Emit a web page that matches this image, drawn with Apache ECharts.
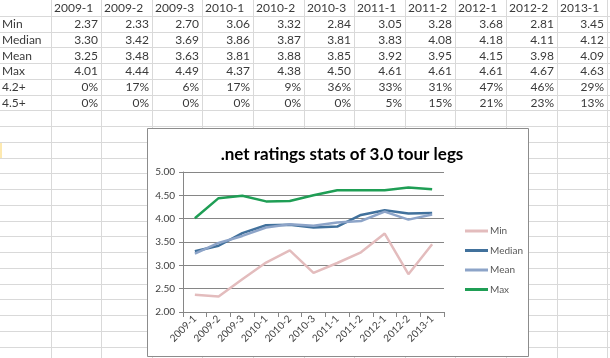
<!DOCTYPE html>
<html>
<head>
<meta charset="utf-8">
<script src="https://cdn.jsdelivr.net/npm/echarts@6/dist/echarts.min.js"></script>
<style>
html,body{margin:0;padding:0;background:#fff;}
#c{width:610px;height:358px;}
</style>
</head>
<body>
<div id="c"></div>
<script>
var categories = ['2009-1','2009-2','2009-3','2010-1','2010-2','2010-3','2011-1','2011-2','2012-1','2012-2','2013-1'];
var minVals    = [2.37,2.33,2.70,3.06,3.32,2.84,3.05,3.28,3.68,2.81,3.45];
var medianVals = [3.30,3.42,3.69,3.86,3.87,3.81,3.83,4.08,4.18,4.11,4.12];
var meanVals   = [3.25,3.48,3.63,3.81,3.88,3.85,3.92,3.95,4.15,3.98,4.09];
var maxVals    = [4.01,4.44,4.49,4.37,4.38,4.50,4.61,4.61,4.61,4.67,4.63];
var pct42      = [0,17,6,17,9,36,33,31,47,46,29];
var pct45      = [0,0,0,0,0,0,5,15,21,23,13];
var rowLabels  = ['Min','Median','Mean','Max','4.2+','4.5+'];
var seriesNames = ['Min','Median','Mean','Max'];
var chartTitle = '.net ratings stats of 3.0 tour legs';

var colW = 50.6, rowH = 15.75;
var FONT = 'Lato, "Liberation Sans", sans-serif';
var graphics = [];
// spreadsheet grid lines
for (var i = 1; i <= 12; i++) {
  var x = Math.round(colW * i) + 0.5;
  graphics.push({type:'line', z:-10, shape:{x1:x,y1:0,x2:x,y2:358}, style:{stroke:'#d9d9d9',lineWidth:1}});
}
for (var j = 1; j <= 23; j++) {
  var y = Math.round(rowH * j) + 0.5;
  graphics.push({type:'line', z:-10, shape:{x1:0,y1:y,x2:610,y2:y}, style:{stroke:'#d9d9d9',lineWidth:1}});
}
graphics.push({type:'rect', z:-9, shape:{x:0,y:143,width:2,height:15}, style:{fill:'#fde9b0'}});
// header row
categories.forEach(function(c, k){
  graphics.push({type:'text', z:-8, x: Math.round(colW*(k+1)) + 3, y: 8.5,
    style:{text:c, fill:'#3a3a3a', font:'12px ' + FONT, verticalAlign:'middle', align:'left'}});
});
var tableRows = [minVals, medianVals, meanVals, maxVals, pct42, pct45];
tableRows.forEach(function(row, r){
  var cy = 8.5 + rowH*(r+1);
  graphics.push({type:'text', z:-8, x: 2, y: cy,
    style:{text:rowLabels[r], fill:'#3a3a3a', font:'12px ' + FONT, verticalAlign:'middle', align:'left'}});
  row.forEach(function(v, k){
    var txt = r < 4 ? v.toFixed(2) : (v + '%');
    graphics.push({type:'text', z:-8, x: Math.round(colW*(k+2)) - 3, y: cy,
      style:{text:txt, fill:'#3a3a3a', font:'12px ' + FONT, verticalAlign:'middle', align:'right'}});
  });
});
// chart box
graphics.push({type:'rect', z:-5, shape:{x:147.5,y:128.5,width:381,height:228}, style:{fill:'#fff',stroke:'#8c8c8c',lineWidth:1}});

var colors = {Min:'#e3bcbd', Median:'#41719c', Mean:'#8da4c8', Max:'#1f9e55'};
var data = {Min:minVals, Median:medianVals, Mean:meanVals, Max:maxVals};

var chart = echarts.init(document.getElementById('c'), null, {renderer:'canvas'});
chart.setOption({
  animation:false,
  backgroundColor:'#fff',
  title:{text:chartTitle, left:337, top:141, textAlign:'center',
    textStyle:{fontFamily:FONT, fontWeight:'bold', fontSize:17, color:'#000'}},
  graphic: graphics,
  legend:{orient:'vertical', left:460, top:220, data:seriesNames, icon:'rect',
    itemWidth:23, itemHeight:3, itemGap:7.5,
    textStyle:{fontFamily:FONT, fontSize:10, color:'#595959', lineHeight:12, padding:[0,0,0,-3]}},
  grid:{left:183, right:166, top:172, bottom:46, containLabel:false},
  xAxis:{type:'category', data:categories, boundaryGap:true,
    axisLine:{lineStyle:{color:'#868686'}},
    axisTick:{show:true, length:5, lineStyle:{color:'#868686'}},
    axisLabel:{rotate:45, interval:0, fontFamily:FONT, fontSize:10, color:'#404040', margin:5}},
  yAxis:{type:'value', min:2, max:5, interval:0.5,
    axisLine:{show:true, lineStyle:{color:'#868686'}},
    axisTick:{show:true, length:4, lineStyle:{color:'#868686'}},
    splitLine:{lineStyle:{color:'#868686'}},
    axisLabel:{formatter:function(v){return v.toFixed(2);}, fontFamily:FONT, fontSize:10, color:'#404040', margin:8}},
  series: seriesNames.map(function(n){
    return {name:n, type:'line', data:data[n], symbol:'none', color:colors[n],
      lineStyle:{width:2.5, color:colors[n]}};
  })
});
</script>
</body>
</html>
